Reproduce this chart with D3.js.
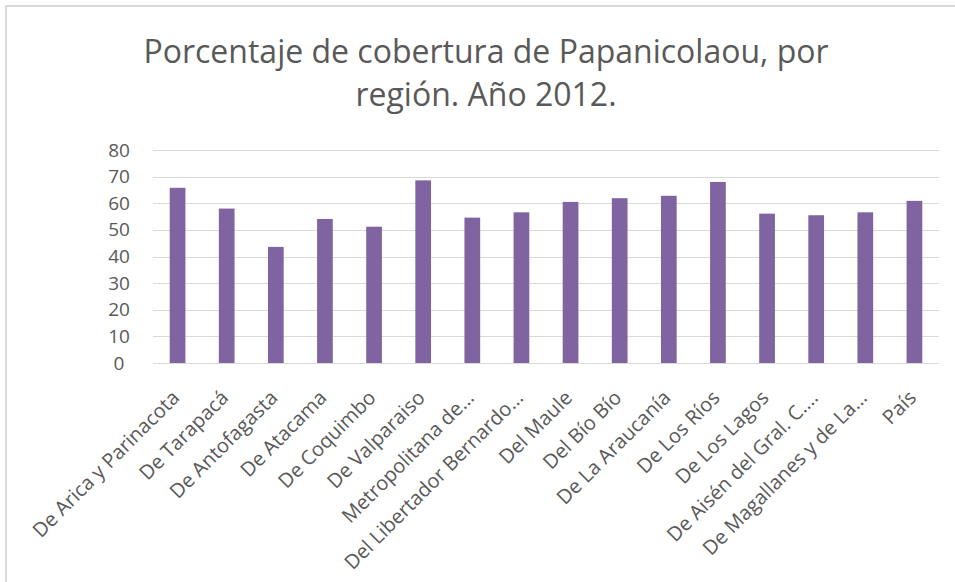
<!DOCTYPE html>
<html>
<head>
<meta charset="utf-8">
<script src="https://cdn.jsdelivr.net/npm/d3@7"></script>
<style>
  body { margin: 0; background: #fff; }
  text { font-family: 'Open Sans', sans-serif; fill: #595959; }
</style>
</head>
<body>
<svg id="chart"></svg>
<script>
// data
var regiones = ['De Arica y Parinacota', 'De Tarapacá', 'De Antofagasta', 'De Atacama', 'De Coquimbo',
                'De Valparaiso', 'Metropolitana de...', 'Del Libertador Bernardo...', 'Del Maule', 'Del Bío Bío',
                'De La Araucanía', 'De Los Ríos', 'De Los Lagos', 'De Aisén del Gral. C....',
                'De Magallanes y de La...', 'País'];
var cobertura = [65.8, 58.0, 43.6, 54.1, 51.2, 68.6, 54.6, 56.6, 60.5, 61.9, 62.8, 68.0, 56.1, 55.5, 56.6, 60.9];
var yTicks = [0, 10, 20, 30, 40, 50, 60, 70, 80];
var titulo = ['Porcentaje de cobertura de Papanicolaou, por', 'región. Año 2012.'];

var W = 955, H = 582;
var plot = { left: 153, right: 939, top: 150, bottom: 363 };

var svg = d3.select('#chart').attr('width', W).attr('height', H);

// chart frame (only top and left edges visible)
svg.append('rect')
    .attr('x', 6).attr('y', 6)
    .attr('width', W + 20).attr('height', H + 20)
    .attr('fill', 'none')
    .attr('stroke', '#d9d9d9')
    .attr('stroke-width', 2);

var x = d3.scaleBand()
    .domain(regiones)
    .range([plot.left, plot.right])
    .paddingInner(0.68)
    .paddingOuter(0.34);

var y = d3.scaleLinear()
    .domain([0, 80])
    .range([plot.bottom, plot.top]);

// title
titulo.forEach(function(line, i) {
    svg.append('text')
        .attr('x', 486)
        .attr('y', 63 + i * 43)
        .attr('text-anchor', 'middle')
        .style('font-size', '32px')
        .text(line);
});

// gridlines
svg.append('g')
    .selectAll('line')
    .data(yTicks)
    .enter()
    .append('line')
    .attr('x1', plot.left)
    .attr('x2', plot.right)
    .attr('y1', function(d) { return Math.round(y(d)) + 0.5; })
    .attr('y2', function(d) { return Math.round(y(d)) + 0.5; })
    .attr('stroke', '#d9d9d9')
    .attr('stroke-width', 1);

// y axis labels
var yAxis = d3.axisLeft(y).tickValues(yTicks).tickSize(0).tickPadding(0);
var yg = svg.append('g')
    .attr('transform', 'translate(119,0)')
    .call(yAxis);
yg.select('.domain').remove();
yg.selectAll('text')
    .style('font-size', '19px')
    .style('font-family', "'Open Sans', sans-serif")
    .attr('text-anchor', 'middle')
    .attr('fill', '#595959');

// bars
svg.append('g')
    .selectAll('rect')
    .data(cobertura)
    .enter()
    .append('rect')
    .attr('x', function(d, i) { return x(regiones[i]); })
    .attr('width', x.bandwidth())
    .attr('y', function(d) { return y(d); })
    .attr('height', function(d) { return y(0) - y(d); })
    .attr('fill', '#8064a2');

// x axis labels
var xAxis = d3.axisBottom(x).tickSize(0).tickPadding(0);
var xg = svg.append('g')
    .attr('transform', 'translate(0,' + plot.bottom + ')')
    .call(xAxis);
xg.select('.domain').remove();
xg.selectAll('text')
    .style('font-size', '20px')
    .style('font-family', "'Open Sans', sans-serif")
    .attr('fill', '#595959')
    .attr('text-anchor', 'end')
    .attr('dy', 0)
    .attr('y', 0)
    .attr('transform', 'translate(3,36) rotate(-45)');
</script>
</body>
</html>
